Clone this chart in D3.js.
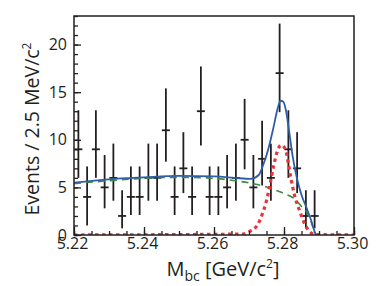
<!DOCTYPE html>
<html>
<head>
<meta charset="utf-8">
<script src="https://cdn.jsdelivr.net/npm/d3@7"></script>
<style>
  body { margin: 0; background: #fff; }
  svg text { font-family: "Open Sans", sans-serif; fill: #231f20; }
</style>
</head>
<body>
<div id="chart"></div>
<script>
// bin centres (2.5 MeV bins)
var binCentres = [5.22125, 5.22375, 5.22625, 5.22875, 5.23125, 5.23375, 5.23625, 5.23875,
                  5.24125, 5.24375, 5.24625, 5.24875, 5.25125, 5.25375, 5.25625, 5.25875,
                  5.26125, 5.26375, 5.26625, 5.26875, 5.27125, 5.27375, 5.27625, 5.27875,
                  5.28125, 5.28375, 5.28625, 5.28875];
var counts  = [9, 4, 9, 5, 6, 2, 4, 4, 6, 6, 11, 4, 7, 4, 13, 4, 4, 5, 6, 10, 5, 8, 6, 17, 9, 7, 2, 2];
var errLow  = [6.0, 1.0, 6.0, 2.8, 3.6, 0.7, 2.1, 2.1, 3.6, 3.6, 7.7, 2.1, 4.4, 2.1, 9.4, 2.1,
               2.1, 2.8, 3.6, 6.9, 2.8, 5.2, 3.6, 12.9, 6.0, 4.4, 0.7, 0.7];
var errHigh = [13.1, 7.2, 13.1, 8.4, 9.6, 4.7, 7.2, 7.2, 9.6, 9.6, 15.4, 7.2, 10.8, 7.2, 17.7, 7.2,
               7.2, 8.4, 9.6, 14.3, 8.4, 12.0, 9.6, 22.2, 13.1, 10.8, 4.7, 4.7];

// total fit (blue)
var totalMass = [5.220, 5.230, 5.240, 5.250, 5.260, 5.266, 5.2705, 5.2728, 5.274, 5.2755, 5.277,
                 5.2782, 5.279, 5.2798, 5.2806, 5.2815, 5.2825, 5.2838, 5.285, 5.2865, 5.2878, 5.2889, 5.2892];
var totalVal  = [5.5, 5.85, 6.05, 6.2, 6.15, 6.0, 5.9, 6.3, 7.3, 9.0, 11.3,
                 13.3, 14.1, 14.0, 13.0, 10.8, 8.2, 5.8, 4.2, 2.8, 1.5, 0.2, 0];

// background (green dashed)
var bkgMass = [5.220, 5.230, 5.240, 5.250, 5.258, 5.265, 5.271, 5.275, 5.278, 5.281, 5.283,
               5.285, 5.2865, 5.2875, 5.2885, 5.2892];
var bkgVal  = [5.4, 5.7, 5.95, 6.05, 6.0, 5.75, 5.4, 5.05, 4.65, 4.2, 3.8,
               3.0, 2.4, 1.6, 0.6, 0];

// signal (red dotted)
var sigMass = [5.220, 5.268, 5.2703, 5.2725, 5.274, 5.275, 5.276, 5.277, 5.278, 5.2792, 5.2805,
               5.2813, 5.282, 5.283, 5.2845, 5.286, 5.2875, 5.289, 5.300];
var sigVal  = [0, 0.1, 0.4, 1.1, 2.4, 3.6, 5.3, 7.2, 8.7, 9.45, 8.9,
               7.4, 5.9, 4.2, 2.5, 1.1, 0.3, 0.05, 0];

var xTickLabels = [5.22, 5.24, 5.26, 5.28, 5.30];
var yTickLabels = [0, 5, 10, 15, 20];

var width = 382, height = 286;
var plotL = 74, plotR = 354, plotT = 16, plotB = 235;

var svg = d3.select("#chart").append("svg")
    .attr("width", width)
    .attr("height", height);

var x = d3.scaleLinear().domain([5.22, 5.30]).range([plotL, plotR]);
var y = d3.scaleLinear().domain([0, 23]).range([plotB, plotT]);

svg.append("clipPath").attr("id", "plotclip")
  .append("rect")
    .attr("x", plotL).attr("y", plotT - 2)
    .attr("width", plotR - plotL).attr("height", plotB - plotT + 2);

var plot = svg.append("g").attr("clip-path", "url(#plotclip)");

function curve(mass, vals) {
    return d3.line()
        .x(function(d, i) { return x(mass[i]); })
        .y(function(d) { return y(d); })
        .curve(d3.curveMonotoneX)(vals);
}

// error bars
var pts = plot.append("g")
    .attr("stroke", "#231f20")
    .attr("stroke-width", 1.8);

pts.selectAll("line.v")
  .data(counts)
  .enter().append("line")
    .attr("class", "v")
    .attr("x1", function(d, i) { return x(binCentres[i]); })
    .attr("x2", function(d, i) { return x(binCentres[i]); })
    .attr("y1", function(d, i) { return y(errLow[i]); })
    .attr("y2", function(d, i) { return y(errHigh[i]); });

pts.selectAll("line.h")
  .data(counts)
  .enter().append("line")
    .attr("class", "h")
    .attr("x1", function(d, i) { return x(binCentres[i]) - 4; })
    .attr("x2", function(d, i) { return x(binCentres[i]) + 4; })
    .attr("y1", function(d) { return y(d); })
    .attr("y2", function(d) { return y(d); });

// fit curves
plot.append("path")
    .attr("d", curve(bkgMass, bkgVal))
    .attr("fill", "none")
    .attr("stroke", "#3d8b3d")
    .attr("stroke-width", 1.6)
    .attr("stroke-dasharray", "7,5");

plot.append("path")
    .attr("d", curve(totalMass, totalVal))
    .attr("fill", "none")
    .attr("stroke", "#2e5ea8")
    .attr("stroke-width", 1.8);

plot.append("path")
    .attr("d", curve(sigMass, sigVal))
    .attr("fill", "none")
    .attr("stroke", "#e8353b")
    .attr("stroke-width", 3.2)
    .attr("stroke-dasharray", "3.5,3.5");

// axes, ticks point inwards
svg.append("g")
    .attr("transform", "translate(0," + plotB + ")")
    .call(d3.axisBottom(x).ticks(16).tickSize(-4).tickFormat(""))
    .call(function(g) { g.select(".domain").remove(); });

svg.append("g")
    .attr("transform", "translate(0," + plotB + ")")
    .call(d3.axisBottom(x).tickValues(xTickLabels).tickSize(-8).tickPadding(3)
          .tickFormat(d3.format(".2f")))
    .call(function(g) {
        g.select(".domain").remove();
        g.selectAll("text").attr("font-size", 16).attr("dx", -2);
    });

svg.append("g")
    .attr("transform", "translate(" + plotL + ",0)")
    .call(d3.axisLeft(y).tickValues(d3.range(0, 24)).tickSize(-4).tickFormat(""))
    .call(function(g) { g.select(".domain").remove(); });

svg.append("g")
    .attr("transform", "translate(" + plotL + ",0)")
    .call(d3.axisLeft(y).tickValues(yTickLabels).tickSize(-7).tickPadding(7))
    .call(function(g) {
        g.select(".domain").remove();
        g.selectAll("text").attr("font-size", 16);
    });

svg.selectAll(".tick line").attr("stroke", "#231f20").attr("stroke-width", 1.3);

svg.append("rect")
    .attr("x", plotL).attr("y", plotT)
    .attr("width", plotR - plotL).attr("height", plotB - plotT)
    .attr("fill", "none")
    .attr("stroke", "#231f20")
    .attr("stroke-width", 1.5);

// axis titles
var yl = svg.append("text")
    .attr("transform", "translate(39,129) rotate(-90)")
    .attr("text-anchor", "middle")
    .attr("font-size", 19.5);
yl.append("tspan").text("Events / 2.5 MeV/c");
yl.append("tspan").attr("font-size", 12).attr("dy", -8).text("2");

var xl = svg.append("text")
    .attr("x", 223).attr("y", 276)
    .attr("text-anchor", "middle")
    .attr("font-size", 20);
xl.append("tspan").text("M");
xl.append("tspan").attr("font-size", 14).attr("dy", 5).text("bc");
xl.append("tspan").attr("dy", -5).text(" [GeV/c");
xl.append("tspan").attr("font-size", 12).attr("dy", -8).text("2");
xl.append("tspan").attr("dy", 8).text("]");
</script>
</body>
</html>
